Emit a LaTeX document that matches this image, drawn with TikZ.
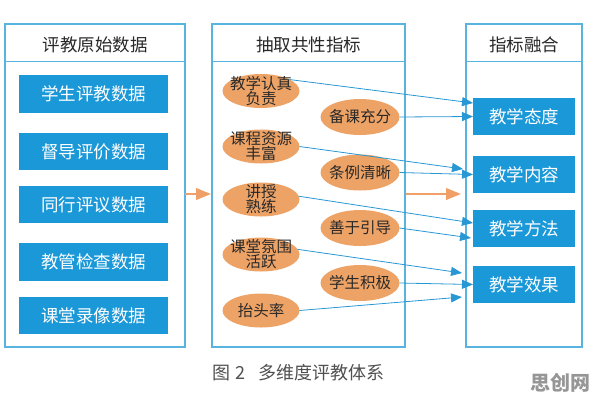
\documentclass[tikz,border=0pt]{standalone}
\usepackage{fontspec}
\setmainfont{Noto Sans CJK SC}
\usetikzlibrary{shapes.geometric,arrows.meta}
\definecolor{panelc}{RGB}{88,180,222}
\definecolor{boxc}{RGB}{27,152,216}
\definecolor{ellc}{RGB}{238,163,102}
\definecolor{orac}{RGB}{240,160,102}
\definecolor{arrc}{RGB}{40,152,212}
\definecolor{txtc}{RGB}{40,40,40}
\definecolor{capc}{RGB}{80,80,80}
\definecolor{wmc}{RGB}{150,150,150}
\tikzset{
  panel/.style={draw=panelc, line width=1.3pt, minimum height=323pt, inner sep=0pt, outer sep=0pt},
  sepline/.style={draw=panelc, line width=0.9pt},
  hdrtext/.style={text=txtc, font=\fontsize{17.5}{20}\selectfont, inner sep=0pt},
  bluebox/.style={fill=boxc, text=white, minimum height=37.5pt, inner sep=0pt, outer sep=0pt,
    font=\fontsize{17.5}{20}\selectfont},
  ell/.style={ellipse, fill=ellc, text=txtc, inner sep=-8pt, outer sep=0pt, align=center,
    font=\fontsize{15.5}{15}\selectfont},
  lell/.style={ell, minimum width=77pt, minimum height=34pt},
  rell/.style={ell, minimum width=79pt, minimum height=36pt},
  barrow/.style={draw=arrc, line width=0.8pt, -{Triangle[length=11pt,width=9pt]}},
  oarrow/.style={draw=orac, line width=2.5pt, -{Triangle[length=15pt,width=11.5pt]}},
}
\begin{document}
\begin{tikzpicture}[x=1pt,y=-1pt]
\useasboundingbox (0,0) rectangle (596,402);
\fill[white] (0,0) rectangle (596,402);

% panels
\node[panel, minimum width=180pt] (p1) at (95,185.5) {};
\node[panel, minimum width=193pt] (p2) at (308.5,185.5) {};
\node[panel, minimum width=116pt] (p3) at (524,185.5) {};
\foreach \p in {p1,p2,p3}{
  \draw[sepline] ([yshift=-37pt]\p.north west) -- ([yshift=-37pt]\p.north east);
}
\node[hdrtext] (h1) at ([yshift=-20.5pt]p1.north) {评教原始数据};
\node[hdrtext] (h2) at ([yshift=-20.5pt]p2.north) {抽取共性指标};
\node[hdrtext] (h3) at ([yshift=-20.5pt]p3.north) {指标融合};

% left boxes
\node[bluebox, minimum width=149pt] (l1) at (93.5,94) {学生评教数据};
\node[bluebox, minimum width=149pt] (l2) at (93.5,151.5) {督导评价数据};
\node[bluebox, minimum width=149pt] (l3) at (93.5,204.5) {同行评议数据};
\node[bluebox, minimum width=149pt] (l4) at (93.5,262) {教管检查数据};
\node[bluebox, minimum width=149pt] (l5) at (93.5,315.5) {课堂录像数据};

% right boxes
\node[bluebox, minimum width=102pt] (r1) at (524,116.5) {教学态度};
\node[bluebox, minimum width=102pt] (r2) at (524,174.5) {教学内容};
\node[bluebox, minimum width=102pt] (r3) at (524,228.5) {教学方法};
\node[bluebox, minimum width=102pt] (r4) at (524,284.5) {教学效果};

% ellipses
\node[lell] (e1) at (261,91) {教学认真\\负责};
\node[lell] (e2) at (261,146.5) {课程资源\\丰富};
\node[lell] (e3) at (261,199.5) {讲授\\熟练};
\node[lell] (e4) at (261,254.5) {课堂氛围\\活跃};
\node[lell] (e5) at (261,310.5) {抬头率};
\node[rell] (f1) at (360,117) {备课充分};
\node[rell] (f2) at (360,172.5) {条例清晰};
\node[rell] (f3) at (360,228) {善于引导};
\node[rell] (f4) at (360,283) {学生积极};

% arrow end points
\coordinate (t1) at (473,103);
\coordinate (t3) at (463,169);
\coordinate (t5) at (473,223);
\coordinate (t6) at (471,238);
\coordinate (t7) at (462,273);
\coordinate (t9) at (462,297);

\draw[barrow] (e1.22) -- (t1);
\draw[barrow] (f1.east) -- (r1.west);
\draw[barrow] (e2.east) -- (t3);
\draw[barrow] (f2.east) -- (r2.west);
\draw[barrow] (e3.5) -- (t5);
\draw[barrow] (f3.east) -- (t6);
\draw[barrow] (e4.8) -- (t7);
\draw[barrow] (f4.east) -- (r4.west);
\draw[barrow] (e5.east) -- (t9);

% orange arrows
\coordinate (o1s) at (185,194);
\coordinate (o1e) at (211,194);
\coordinate (o2s) at (405.5,194);
\coordinate (o2e) at (461,194);
\draw[oarrow] (o1s) -- (o1e);
\draw[oarrow] (o2s) -- (o2e);

% caption and watermark
\node[anchor=west, text=capc, font=\fontsize{18}{20}\selectfont, inner sep=0pt] (cap) at (212,373) {图\hspace{0.3em}2\hspace{0.7em}多维度评教体系};
\node[anchor=east, text=wmc, font=\bfseries\fontsize{20}{22}\selectfont, inner sep=0pt] (wm) at (591,383) {思创网};
\end{tikzpicture}
\end{document}
